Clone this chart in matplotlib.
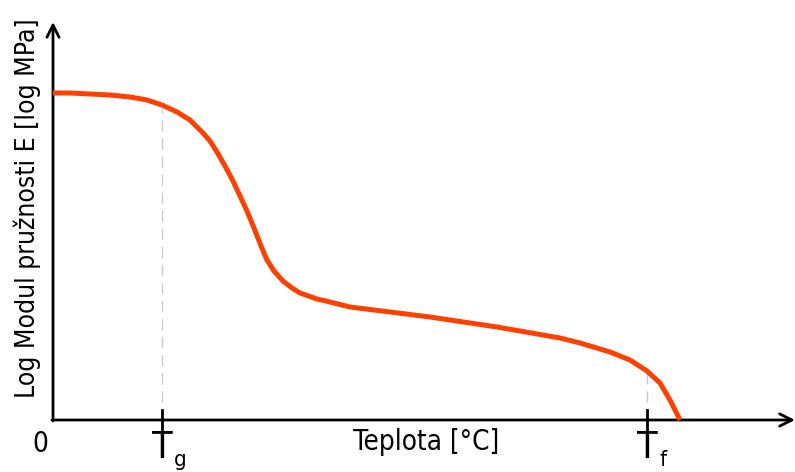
import matplotlib
matplotlib.use('Agg')
import matplotlib.pyplot as plt

# curve (arbitrary units, origin at the axes corner)
temp = [0, 17, 37, 57, 77, 94, 109, 124, 137, 150, 157, 164, 172, 180, 187,
        194, 201, 208, 214, 221, 230, 239, 247, 264, 277, 297, 337, 377, 444,
        507, 527, 557, 577, 594, 607, 617, 627]
log_e = [327, 327, 326, 325, 323, 320, 315, 308, 300, 287, 279, 268, 254, 239,
         224, 209, 192, 174, 160, 149, 139, 132, 127, 121, 118, 113, 108, 103,
         93, 82, 77, 68, 60, 49, 37, 20, 0]

# characteristic temperatures
t_g = 109
t_f = 594
e_at_tg = 315
e_at_tf = 49

x_end = 742
y_end = 398

plt.rcParams['font.family'] = ['DejaVu Sans']

fig = plt.figure(figsize=(7.95, 4.72), dpi=100)
ax = fig.add_axes([0, 0, 1, 1])
ax.set_xlim(-53, 742)
ax.set_ylim(-52, 420)
ax.axis('off')

# dashed guides
for tx, ey in [(t_g, e_at_tg), (t_f, e_at_tf)]:
    ax.plot([tx, tx], [0, ey], color='#cccccc', lw=1, dashes=(8, 5), zorder=1)

# the curve
ax.plot(temp, log_e, color='#ff4000', lw=3.6, solid_capstyle='butt',
        solid_joinstyle='round', zorder=3)

# axes with arrows
arrow = dict(arrowstyle='->', lw=2, color='black', mutation_scale=22,
             shrinkA=0, shrinkB=0)
ax.annotate('', xy=(x_end, 0), xytext=(-1, 0), arrowprops=arrow, zorder=2)
ax.annotate('', xy=(0, y_end), xytext=(0, -1), arrowprops=arrow, zorder=2)

# ticks at Tg and Tf
for tx in [t_g, t_f]:
    ax.plot([tx, tx], [10, -12], color='black', lw=2, zorder=2)

txt = dict(color='black', fontstretch='condensed')
ax.text(-13, -10, '0', ha='center', va='top', fontsize=20, **txt)
ax.text(t_g, -38, 'T', ha='center', va='baseline', fontsize=27, **txt)
ax.text(t_g + 12, -46, 'g', ha='left', va='baseline', fontsize=16, **txt)
ax.text(t_f, -38, 'T', ha='center', va='baseline', fontsize=27, **txt)
ax.text(t_f + 12, -46, 'f', ha='left', va='baseline', fontsize=16, **txt)
ax.text(373, -8, 'Teplota [°C]', ha='center', va='top', fontsize=20, **txt)
ax.text(-26, 212, 'Log Modul pružnosti E [log MPa]', ha='center', va='center',
        rotation=90, fontsize=19, **txt)

fig.savefig('out.png', dpi=100)
